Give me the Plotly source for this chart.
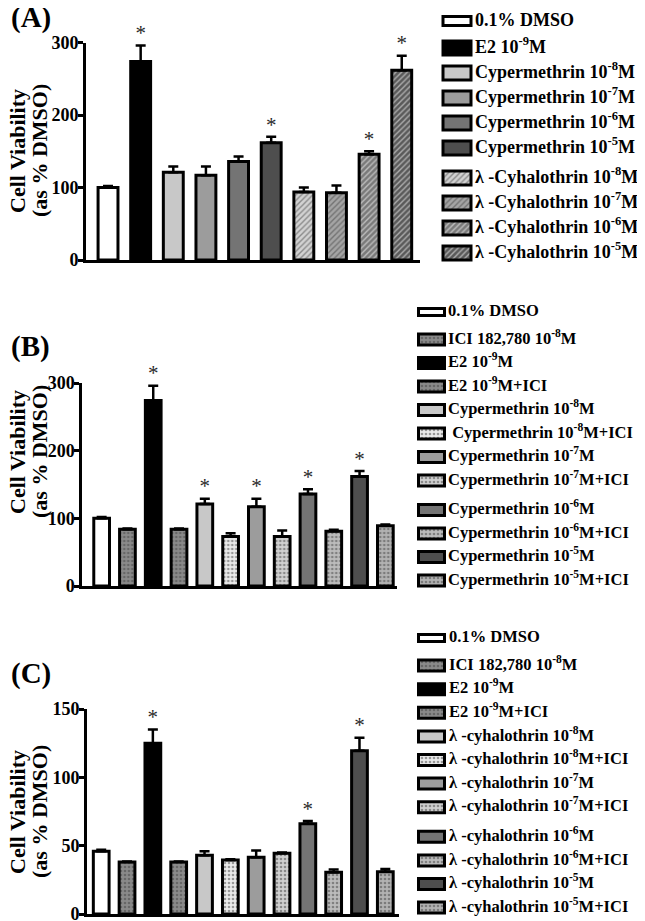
import plotly.graph_objects as go

W, H = 645, 921
OFF = 8  # the page body margin shifts the figure by this many pixels

# ---------------- data ----------------
a_labels = ["0.1% DMSO", "E2 10<sup>-9</sup>M",
            "Cypermethrin 10<sup>-8</sup>M", "Cypermethrin 10<sup>-7</sup>M",
            "Cypermethrin 10<sup>-6</sup>M", "Cypermethrin 10<sup>-5</sup>M",
            "λ -Cyhalothrin 10<sup>-8</sup>M", "λ -Cyhalothrin 10<sup>-7</sup>M",
            "λ -Cyhalothrin 10<sup>-6</sup>M", "λ -Cyhalothrin 10<sup>-5</sup>M"]
a_values = [100, 274, 121, 117, 136, 162, 94, 93, 146, 262]
a_errors = [2, 22, 8, 12, 7, 8, 6, 10, 4, 20]
a_signif = [False, True, False, False, False, True, False, False, True, True]
a_ticks = [0, 100, 200, 300]

b_labels = ["0.1% DMSO", "ICI 182,780 10<sup>-8</sup>M", "E2 10<sup>-9</sup>M",
            "E2 10<sup>-9</sup>M+ICI",
            "Cypermethrin 10<sup>-8</sup>M", " Cypermethrin 10<sup>-8</sup>M+ICI",
            "Cypermethrin 10<sup>-7</sup>M", "Cypermethrin 10<sup>-7</sup>M+ICI",
            "Cypermethrin 10<sup>-6</sup>M", "Cypermethrin 10<sup>-6</sup>M+ICI",
            "Cypermethrin 10<sup>-5</sup>M", "Cypermethrin 10<sup>-5</sup>M+ICI"]
b_values = [100, 84, 274, 84, 121, 73, 117, 73, 136, 81, 162, 89]
b_errors = [2, 1, 22, 1, 8, 5, 12, 9, 7, 2, 8, 2]
b_signif = [False, False, True, False, True, False, True, False, True, False, True, False]
b_ticks = [0, 100, 200, 300]

c_labels = ["0.1% DMSO", "ICI 182,780 10<sup>-8</sup>M", "E2 10<sup>-9</sup>M",
            "E2 10<sup>-9</sup>M+ICI",
            "λ -cyhalothrin 10<sup>-8</sup>M", "λ -cyhalothrin 10<sup>-8</sup>M+ICI",
            "λ -cyhalothrin 10<sup>-7</sup>M", "λ -cyhalothrin 10<sup>-7</sup>M+ICI",
            "λ -cyhalothrin 10<sup>-6</sup>M", "λ -cyhalothrin 10<sup>-6</sup>M+ICI",
            "λ -cyhalothrin 10<sup>-5</sup>M", "λ -cyhalothrin 10<sup>-5</sup>M+ICI"]
c_values = [46, 38, 125, 38, 43, 39.5, 41.5, 44.5, 66, 30.5, 119.5, 31]
c_errors = [1, 0.5, 10, 0.5, 3, 0.5, 5, 0.5, 2, 2, 9.5, 2]
c_signif = [False, False, True, False, False, False, False, False, True, False, True, False]
c_ticks = [0, 50, 100, 150]

y_title_lines = ["Cell Viability", "(as % DMSO)"]

# ---------------- styles ----------------
# (fill colour, pattern colour, pattern shape)
STY = {
    "dmso": ("#ffffff", "#ffffff", ""),
    "e2": ("#000000", "#000000", ""),
    "ici": ("#8a8a8a", "#565656", "."),
    "c8": ("#c8c8c8", "#c8c8c8", ""),
    "c7": ("#9c9c9c", "#9c9c9c", ""),
    "c6": ("#747474", "#747474", ""),
    "c5": ("#4e4e4e", "#4e4e4e", ""),
    "h8": ("#d2d2d2", "#8c8c8c", "/"),
    "h7": ("#a4a4a4", "#666666", "/"),
    "h6": ("#7a7a7a", "#484848", "/"),
    "h5": ("#5a5a5a", "#343434", "/"),
    "i8": ("#eaeaea", "#c4c4c4", "."),
    "i7": ("#d0d0d0", "#a4a4a4", "."),
    "i6": ("#bcbcbc", "#8c8c8c", "."),
    "i5": ("#b2b2b2", "#767676", "."),
}
a_style = ["dmso", "e2", "c8", "c7", "c6", "c5", "h8", "h7", "h6", "h5"]
bc_style = ["dmso", "ici", "e2", "ici", "c8", "i8", "c7", "i7", "c6", "i6", "c5", "i5"]

SERIF = "Liberation Serif"


def px_x(v):
    return (v - OFF) / W


def px_y(v):
    return 1 - (v - OFF) / H


panels = [
    dict(labels=a_labels, values=a_values, errors=a_errors, signif=a_signif,
         ticks=a_ticks, style=a_style, xd=(86, 420), yd=(42.7, 260),
         xr=[-0.675, 9.56], tag="(A)", tag_y=17, title_y=151,
         rows=[21, 48, 73, 98, 123, 148, 178, 203, 228, 253],
         sw_x=443, sw_len=28, sw_h=14, sw_h_thin=9, tx=475, fs=18),
    dict(labels=b_labels, values=b_values, errors=b_errors, signif=b_signif,
         ticks=b_ticks, style=bc_style, xd=(82.3, 396.7), yd=(383, 586),
         xr=[-0.75, 11.44], tag="(B)", tag_y=347, title_y=452,
         rows=[312, 339.5, 363, 386.5, 410, 433.5, 457, 480.5, 510, 533.5, 557, 580.5],
         sw_x=418.5, sw_len=26, sw_h=11, sw_h_thin=7, tx=448, fs=16.5),
    dict(labels=c_labels, values=c_values, errors=c_errors, signif=c_signif,
         ticks=c_ticks, style=bc_style, xd=(87, 399), yd=(709, 914),
         xr=[-0.55, 11.53], tag="(C)", tag_y=673, title_y=812,
         rows=[638, 665.6, 689.2, 712.8, 736.4, 760, 783.6, 807.2, 836.8, 860.4, 884, 907.6],
         sw_x=418.5, sw_len=26, sw_h=11, sw_h_thin=7, tx=449, fs=16.5),
]
title_line_x = [17, 39]

fig = go.Figure()
layout = dict(width=W, height=H,
              margin=dict(l=0, r=0, t=0, b=0, pad=0, autoexpand=False),
              paper_bgcolor="white", plot_bgcolor="rgba(0,0,0,0)",
              showlegend=False, barmode="overlay")
annotations = []
bold = dict(family=SERIF, color="black", weight="bold")


def marker_for(style):
    col = [STY[s][0] for s in style]
    fg = [STY[s][1] for s in style]
    sh = [STY[s][2] for s in style]
    return dict(color=col, line=dict(color="black", width=3),
                pattern=dict(shape=sh, fgcolor=fg, size=4, solidity=0.35,
                             fillmode="overlay"))


for i, p in enumerate(panels):
    n = i + 1
    xa = "x" if n == 1 else f"x{n}"
    ya = "y" if n == 1 else f"y{n}"
    xk = "xaxis" if n == 1 else f"xaxis{n}"
    yk = "yaxis" if n == 1 else f"yaxis{n}"
    cats = list(range(len(p["values"])))
    fig.add_trace(go.Bar(
        x=cats, y=p["values"], xaxis=xa, yaxis=ya, width=0.61,
        hovertext=p["labels"],
        marker=marker_for(p["style"]),
        error_y=dict(type="data", symmetric=False, array=p["errors"],
                     arrayminus=[0] * len(p["errors"]), color="black",
                     thickness=2.5, width=5),
    ))
    sx = [c for c, s in zip(cats, p["signif"]) if s]
    sy = [v + e for v, e, s in zip(p["values"], p["errors"], p["signif"]) if s]
    fig.add_trace(go.Scatter(
        x=sx, y=sy, xaxis=xa, yaxis=ya, mode="text", text=["*"] * len(sx),
        textposition="top center", cliponaxis=False,
        textfont=dict(family=SERIF, size=21, color="#2a2a2a"),
    ))
    layout[xk] = dict(domain=[px_x(p["xd"][0]), px_x(p["xd"][1])], anchor=ya,
                      range=p["xr"], showline=True, linewidth=3, linecolor="black",
                      ticks="", showticklabels=False, showgrid=False,
                      zeroline=False, fixedrange=True, automargin=False)
    layout[yk] = dict(domain=[px_y(p["yd"][1]), px_y(p["yd"][0])], anchor=xa,
                      range=[0, p["ticks"][-1]], tickvals=p["ticks"],
                      showline=True, linewidth=3, linecolor="black",
                      ticks="outside", ticklen=5, tickwidth=2.5, tickcolor="black",
                      ticklabelstandoff=-4,
                      tickfont=dict(size=18, **bold), showgrid=False,
                      zeroline=False, fixedrange=True, automargin=False)
    annotations.append(dict(text=p["tag"], xref="paper", yref="paper",
                            x=px_x(9), y=px_y(p["tag_y"]), xanchor="left",
                            yanchor="middle", showarrow=False,
                            font=dict(size=29, **bold)))
    for line, lx in zip(y_title_lines, title_line_x):
        annotations.append(dict(text=line, xref="paper", yref="paper",
                                x=px_x(lx), y=px_y(p["title_y"]),
                                xanchor="center", yanchor="middle", textangle=-90,
                                showarrow=False, font=dict(size=22, **bold)))

    # legend (drawn on a full-page overlay axis in page-pixel units)
    heights = [p["sw_h_thin"] if s == "dmso" else p["sw_h"] for s in p["style"]]
    fig.add_trace(go.Bar(
        orientation="h", y=p["rows"], x=[p["sw_len"]] * len(p["rows"]),
        base=[p["sw_x"]] * len(p["rows"]), width=heights, xaxis="x4", yaxis="y4",
        marker=marker_for(p["style"]), hoverinfo="skip",
    ))
    fig.add_trace(go.Scatter(
        x=[p["tx"]] * len(p["rows"]), y=p["rows"], mode="text", text=p["labels"],
        textposition="middle right", xaxis="x4", yaxis="y4", cliponaxis=False,
        textfont=dict(size=p["fs"], **bold), hoverinfo="skip",
    ))

layout["xaxis4"] = dict(domain=[0, 1], range=[OFF, OFF + W], visible=False,
                        anchor="y4", fixedrange=True, automargin=False)
layout["yaxis4"] = dict(domain=[0, 1], range=[OFF + H, OFF], visible=False,
                        anchor="x4", fixedrange=True, automargin=False)
layout["annotations"] = annotations
fig.update_layout(**layout)
fig.write_html("out.html")
